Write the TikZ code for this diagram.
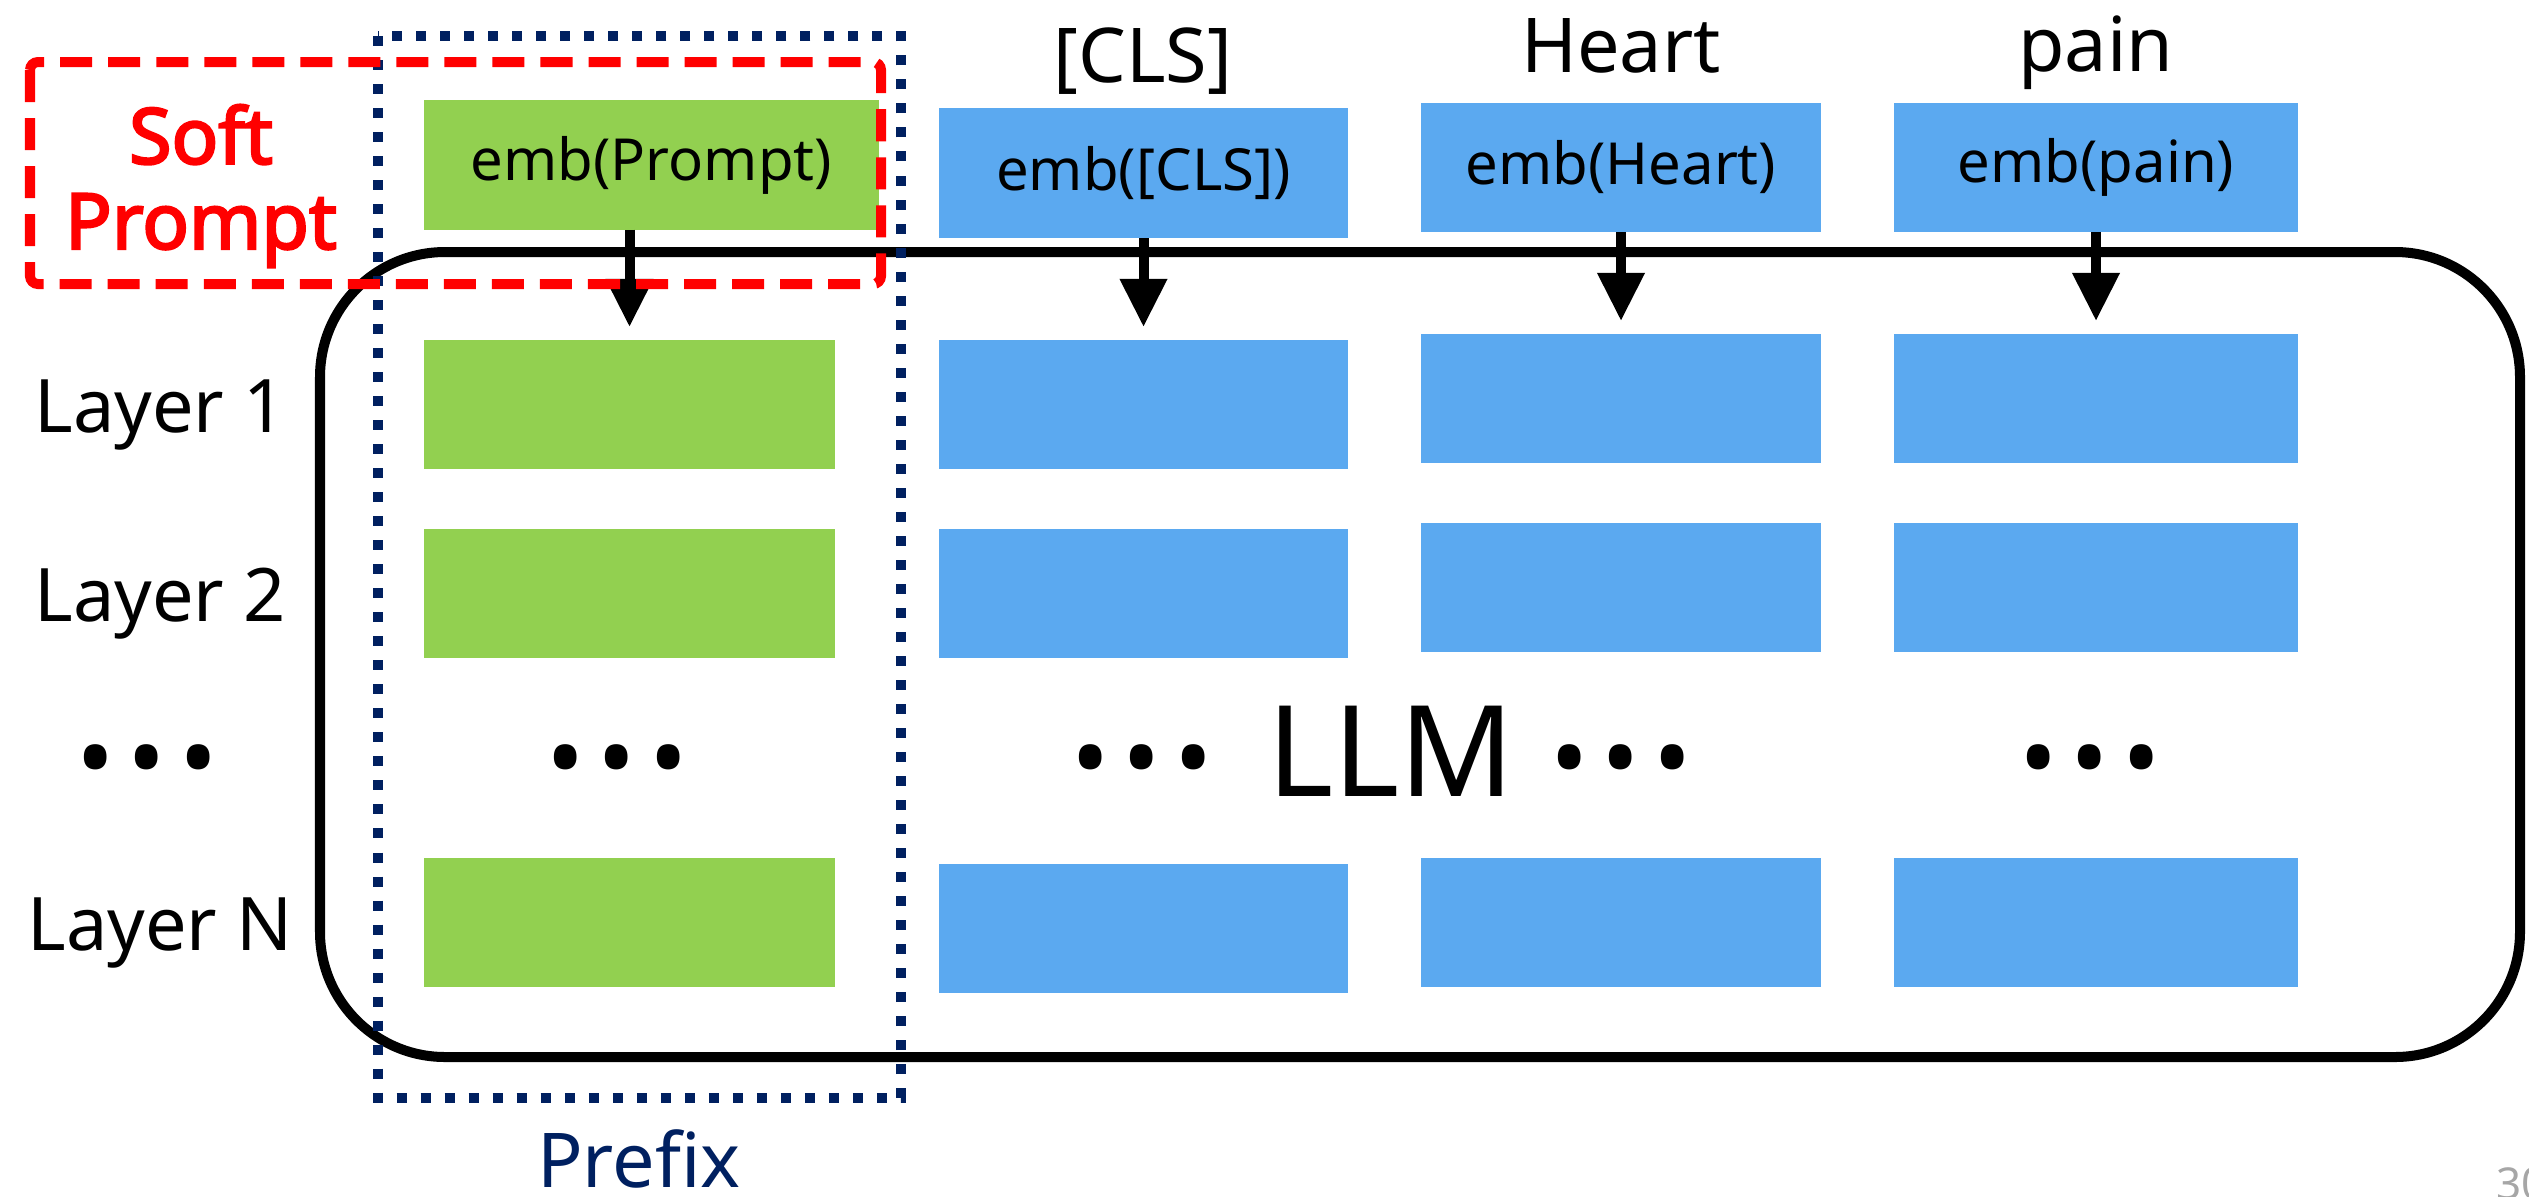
\documentclass[tikz,border=0pt]{standalone}
\usepackage{fontspec}
\setmainfont{Noto Sans}
\newfontfamily\softfont{Noto Sans}[FakeBold=3]
\usetikzlibrary{arrows.meta}
\definecolor{leafgreen}{RGB}{146,208,80}
\definecolor{skyblue}{RGB}{91,169,240}
\definecolor{navy}{RGB}{0,32,96}
\definecolor{pagegray}{RGB}{166,166,166}
\newcommand{\dotrow}{•\kern0.13em•\kern0.13em•}
\begin{document}
\begin{tikzpicture}[x=0.01cm, y=-0.01cm, every node/.style={inner sep=0pt, outer sep=0pt},
        prefixbox/.style={fill=leafgreen, minimum height=1.29cm},
        tokenbox/.style={fill=skyblue, minimum height=1.29cm},
        embtext/.style={font=\fontsize{16.5}{20}\selectfont},
        wordtext/.style={anchor=base, font=\fontsize{21.5}{26}\selectfont},
        dotstext/.style={font=\fontsize{29}{34}\selectfont},
        >={Triangle[length=0.48cm, width=0.45cm]},
        flow/.style={->, line width=0.1cm, shorten >=0.13cm}]
        \useasboundingbox (0, 0) rectangle (2529, 1196);
        \draw[line width=0.1cm, rounded corners=1.25cm] (320, 252) rectangle (2520, 1057);
        \node[prefixbox, minimum width=4.55cm, embtext] (p0) at (651.5, 165) {emb(Prompt)};
        \node[prefixbox, minimum width=4.11cm] (p1) at (629.5, 404.5) {};
        \node[prefixbox, minimum width=4.11cm] (p2) at (629.5, 593.5) {};
        \node[prefixbox, minimum width=4.11cm] (pN) at (629.5, 922.5) {};
        \node[tokenbox, minimum width=4.09cm, minimum height=1.30cm, embtext] (c0) at (1143.5, 173) {emb([CLS])};
        \node[tokenbox, minimum width=4.09cm] (c1) at (1143.5, 404.5) {};
        \node[tokenbox, minimum width=4.09cm] (c2) at (1143.5, 593.5) {};
        \node[tokenbox, minimum width=4.09cm] (cN) at (1143.5, 928.5) {};
        \node[tokenbox, minimum width=4.00cm, embtext] (h0) at (1621, 167.5) {emb(Heart)};
        \node[tokenbox, minimum width=4.00cm] (h1) at (1621, 398.5) {};
        \node[tokenbox, minimum width=4.00cm] (h2) at (1621, 587.5) {};
        \node[tokenbox, minimum width=4.00cm] (hN) at (1621, 922.5) {};
        \node[tokenbox, minimum width=4.04cm, embtext] (a0) at (2096, 167.5) {emb(pain)};
        \node[tokenbox, minimum width=4.04cm] (a1) at (2096, 398.5) {};
        \node[tokenbox, minimum width=4.04cm] (a2) at (2096, 587.5) {};
        \node[tokenbox, minimum width=4.04cm] (aN) at (2096, 922.5) {};
        \draw[flow] (p0.south -| p1.north) -- (p1.north);
        \draw[flow] (c0) -- (c1);
        \draw[flow] (h0) -- (h1);
        \draw[flow] (a0) -- (a1);
        \node[wordtext] (cls) at (1143, 82) {[CLS]};
        \node[wordtext] (heart) at (1621, 72) {Heart};
        \node[wordtext] (pain) at (2096, 71) {pain};
        \node[wordtext, font=\fontsize{21}{25}\selectfont] (layer1) at (160, 432) {Layer 1};
        \node[wordtext, font=\fontsize{21}{25}\selectfont] (layer2) at (160, 621) {Layer 2};
        \node[wordtext, font=\fontsize{21}{25}\selectfont] (layerN) at (160, 950) {Layer N};
        \node[dotstext] (dots0) at (147, 770) {\dotrow};
        \node[dotstext] (dotsp) at (617, 770) {\dotrow};
        \node[dotstext] (dotsc) at (1142, 770) {\dotrow};
        \node[dotstext] (dotsh) at (1621, 770) {\dotrow};
        \node[dotstext] (dotsa) at (2090, 770) {\dotrow};
        \node[anchor=base, font=\fontsize{36}{40}\selectfont] (llm) at (1391, 796) {LLM};
        \node[wordtext, text=navy] (prefix) at (639, 1187) {Prefix};
        \node[anchor=base west, font=\fontsize{12.5}{15}\selectfont, text=pagegray] (pagenum) at (2496, 1199) {30};
        \draw[navy, line width=0.1cm, dash pattern=on 0.1cm off 0.14cm] (378, 36) rectangle (901, 1098);
        \draw[red, line width=0.1cm, dash pattern=on 0.32cm off 0.16cm, rounded corners=0.08cm] (30, 62) rectangle (881, 284);
        \node[align=center, text=red, font=\softfont\fontsize{22}{24.2}\selectfont] (soft) at (201, 186) {Soft\\Prompt};
\end{tikzpicture}
\end{document}
